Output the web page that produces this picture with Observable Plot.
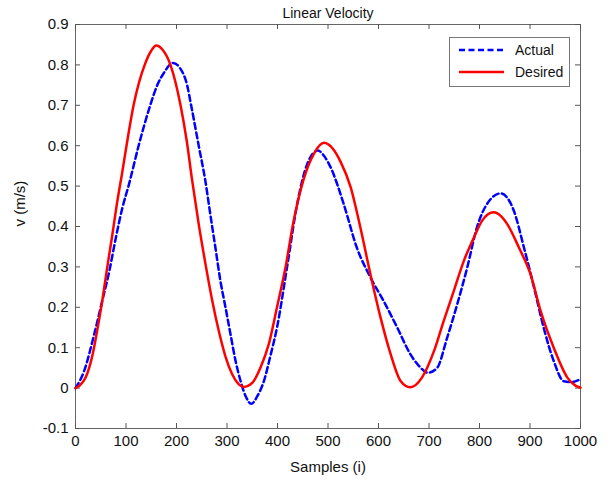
<!DOCTYPE html>
<html>
<head>
<meta charset="utf-8">
<script src="https://cdn.jsdelivr.net/npm/d3@7"></script>
<script src="https://cdn.jsdelivr.net/npm/@observablehq/plot@0.6"></script>
<style>
  body { margin: 0; background: #fff; font-family: "Liberation Sans", Arial, sans-serif; }
  #wrap { position: relative; width: 616px; height: 481px; }
  #legend { position: absolute; left: 449px; top: 37px; width: 119px; height: 48px; border: 1px solid #777; background: #fff; font-size: 14px; color: #111; }
  .row { position: absolute; left: 9px; height: 20px; display: flex; align-items: center; }
  .row svg { margin-right: 11px; }
</style>
</head>
<body>
<div id="wrap">
  <div id="chart"></div>
  <div id="legend">
    <div class="row" style="top:2px"><svg width="45" height="6"><line x1="0" y1="3" x2="45" y2="3" stroke="#0000ff" stroke-width="2.5" stroke-dasharray="6,3.5"/></svg><span>Actual</span></div>
    <div class="row" style="top:24px"><svg width="45" height="6"><line x1="0" y1="3" x2="45" y2="3" stroke="#ff0000" stroke-width="2.5"/></svg><span>Desired</span></div>
  </div>
</div>
<script>
const title = "Linear Velocity";
const xLabel = "Samples (i)";
const yLabel = "v (m/s)";
const xTicks = [0, 100, 200, 300, 400, 500, 600, 700, 800, 900, 1000];
const yTicks = [-0.1, 0, 0.1, 0.2, 0.3, 0.4, 0.5, 0.6, 0.7, 0.8, 0.9];

const desiredI = [0, 8, 20, 34, 44, 53, 63, 73, 83, 92, 101, 115, 137, 150, 160, 172, 188, 208, 220, 231, 244, 257, 271, 284, 297, 310, 323, 333, 350, 366, 383, 399, 416, 432, 452, 472, 492, 510, 525, 545, 564, 584, 604, 624, 644, 663, 686, 710, 729, 749, 769, 789, 805, 828, 843, 855, 878, 901, 921, 947, 974, 990, 1000];
const desiredV = [0, 0.006, 0.026, 0.084, 0.15, 0.216, 0.3, 0.38, 0.464, 0.53, 0.6, 0.7, 0.8, 0.835, 0.848, 0.838, 0.8, 0.7, 0.614, 0.514, 0.406, 0.31, 0.215, 0.14, 0.078, 0.035, 0.01, 0.003, 0.013, 0.05, 0.11, 0.2, 0.3, 0.414, 0.518, 0.58, 0.607, 0.592, 0.56, 0.497, 0.398, 0.282, 0.175, 0.084, 0.017, 0.002, 0.026, 0.092, 0.166, 0.24, 0.315, 0.373, 0.414, 0.435, 0.425, 0.406, 0.348, 0.282, 0.191, 0.1, 0.026, 0.006, 0.001];

const actualI = [0, 17, 37, 53, 67, 80, 93, 106, 125, 148, 162, 175, 193, 208, 221, 229, 244, 257, 267, 277, 287, 297, 307, 317, 327, 337, 348, 360, 373, 386, 399, 419, 439, 459, 480, 492, 505, 531, 557, 584, 610, 637, 663, 680, 698, 716, 736, 756, 776, 795, 815, 842, 868, 888, 908, 927, 947, 967, 983, 1000];
const actualV = [0, 0.042, 0.133, 0.216, 0.29, 0.373, 0.447, 0.505, 0.6, 0.7, 0.75, 0.78, 0.805, 0.79, 0.75, 0.7, 0.6, 0.514, 0.43, 0.348, 0.265, 0.2, 0.133, 0.067, 0.017, -0.02, -0.039, -0.02, 0.017, 0.08, 0.15, 0.3, 0.456, 0.555, 0.588, 0.575, 0.547, 0.456, 0.348, 0.274, 0.216, 0.15, 0.084, 0.055, 0.038, 0.05, 0.125, 0.208, 0.3, 0.398, 0.456, 0.482, 0.439, 0.348, 0.249, 0.15, 0.067, 0.017, 0.015, 0.022];

const desired = desiredI.map((i, k) => ({i, v: desiredV[k]}));
const actual = actualI.map((i, k) => ({i, v: actualV[k]}));

const fmt = d => String(d);
const W = 616, H = 481, mL = 75, mR = 36, mT = 24, mB = 53;
const fw = W - mL - mR, fh = H - mT - mB, tk = 5;
const axisColor = "#555";

const chart = Plot.plot({
  width: W,
  height: H,
  marginLeft: mL,
  marginRight: mR,
  marginTop: mT,
  marginBottom: mB,
  style: {fontFamily: "'Liberation Sans', Arial, sans-serif", fontSize: "15px", color: "#111", background: "#fff"},
  x: {domain: [0, 1000]},
  y: {domain: [-0.1, 0.9]},
  marks: [
    Plot.frame({stroke: "#666", strokeWidth: 1}),
    Plot.axisX(xTicks, {anchor: "bottom", tickSize: 0, tickPadding: 7, tickFormat: fmt, label: null, fontSize: 15}),
    Plot.axisY(yTicks, {anchor: "left", tickSize: 0, tickPadding: 7, tickFormat: fmt, label: null, fontSize: 15}),
    Plot.tickX(xTicks, {x: d => d, insetTop: fh - tk, stroke: axisColor}),
    Plot.tickX(xTicks, {x: d => d, insetBottom: fh - tk, stroke: axisColor}),
    Plot.tickY(yTicks, {y: d => d, insetRight: fw - tk, stroke: axisColor}),
    Plot.tickY(yTicks, {y: d => d, insetLeft: fw - tk, stroke: axisColor}),
    Plot.line(actual, {x: "i", y: "v", stroke: "#0000ff", strokeWidth: 2.5, strokeDasharray: "6,3.5", curve: "monotone-x"}),
    Plot.line(desired, {x: "i", y: "v", stroke: "#ff0000", strokeWidth: 2.5, curve: "monotone-x"}),
    Plot.text([title], {frameAnchor: "top", lineAnchor: "middle", dy: -11, fontSize: 14, fill: "#111"}),
    Plot.text([xLabel], {frameAnchor: "bottom", lineAnchor: "middle", dy: 39, fontSize: 15, fill: "#111"}),
    Plot.text([yLabel], {frameAnchor: "left", dx: -55, rotate: -90, fontSize: 15, fill: "#111"})
  ]
});
document.getElementById("chart").appendChild(chart);
</script>
</body>
</html>
